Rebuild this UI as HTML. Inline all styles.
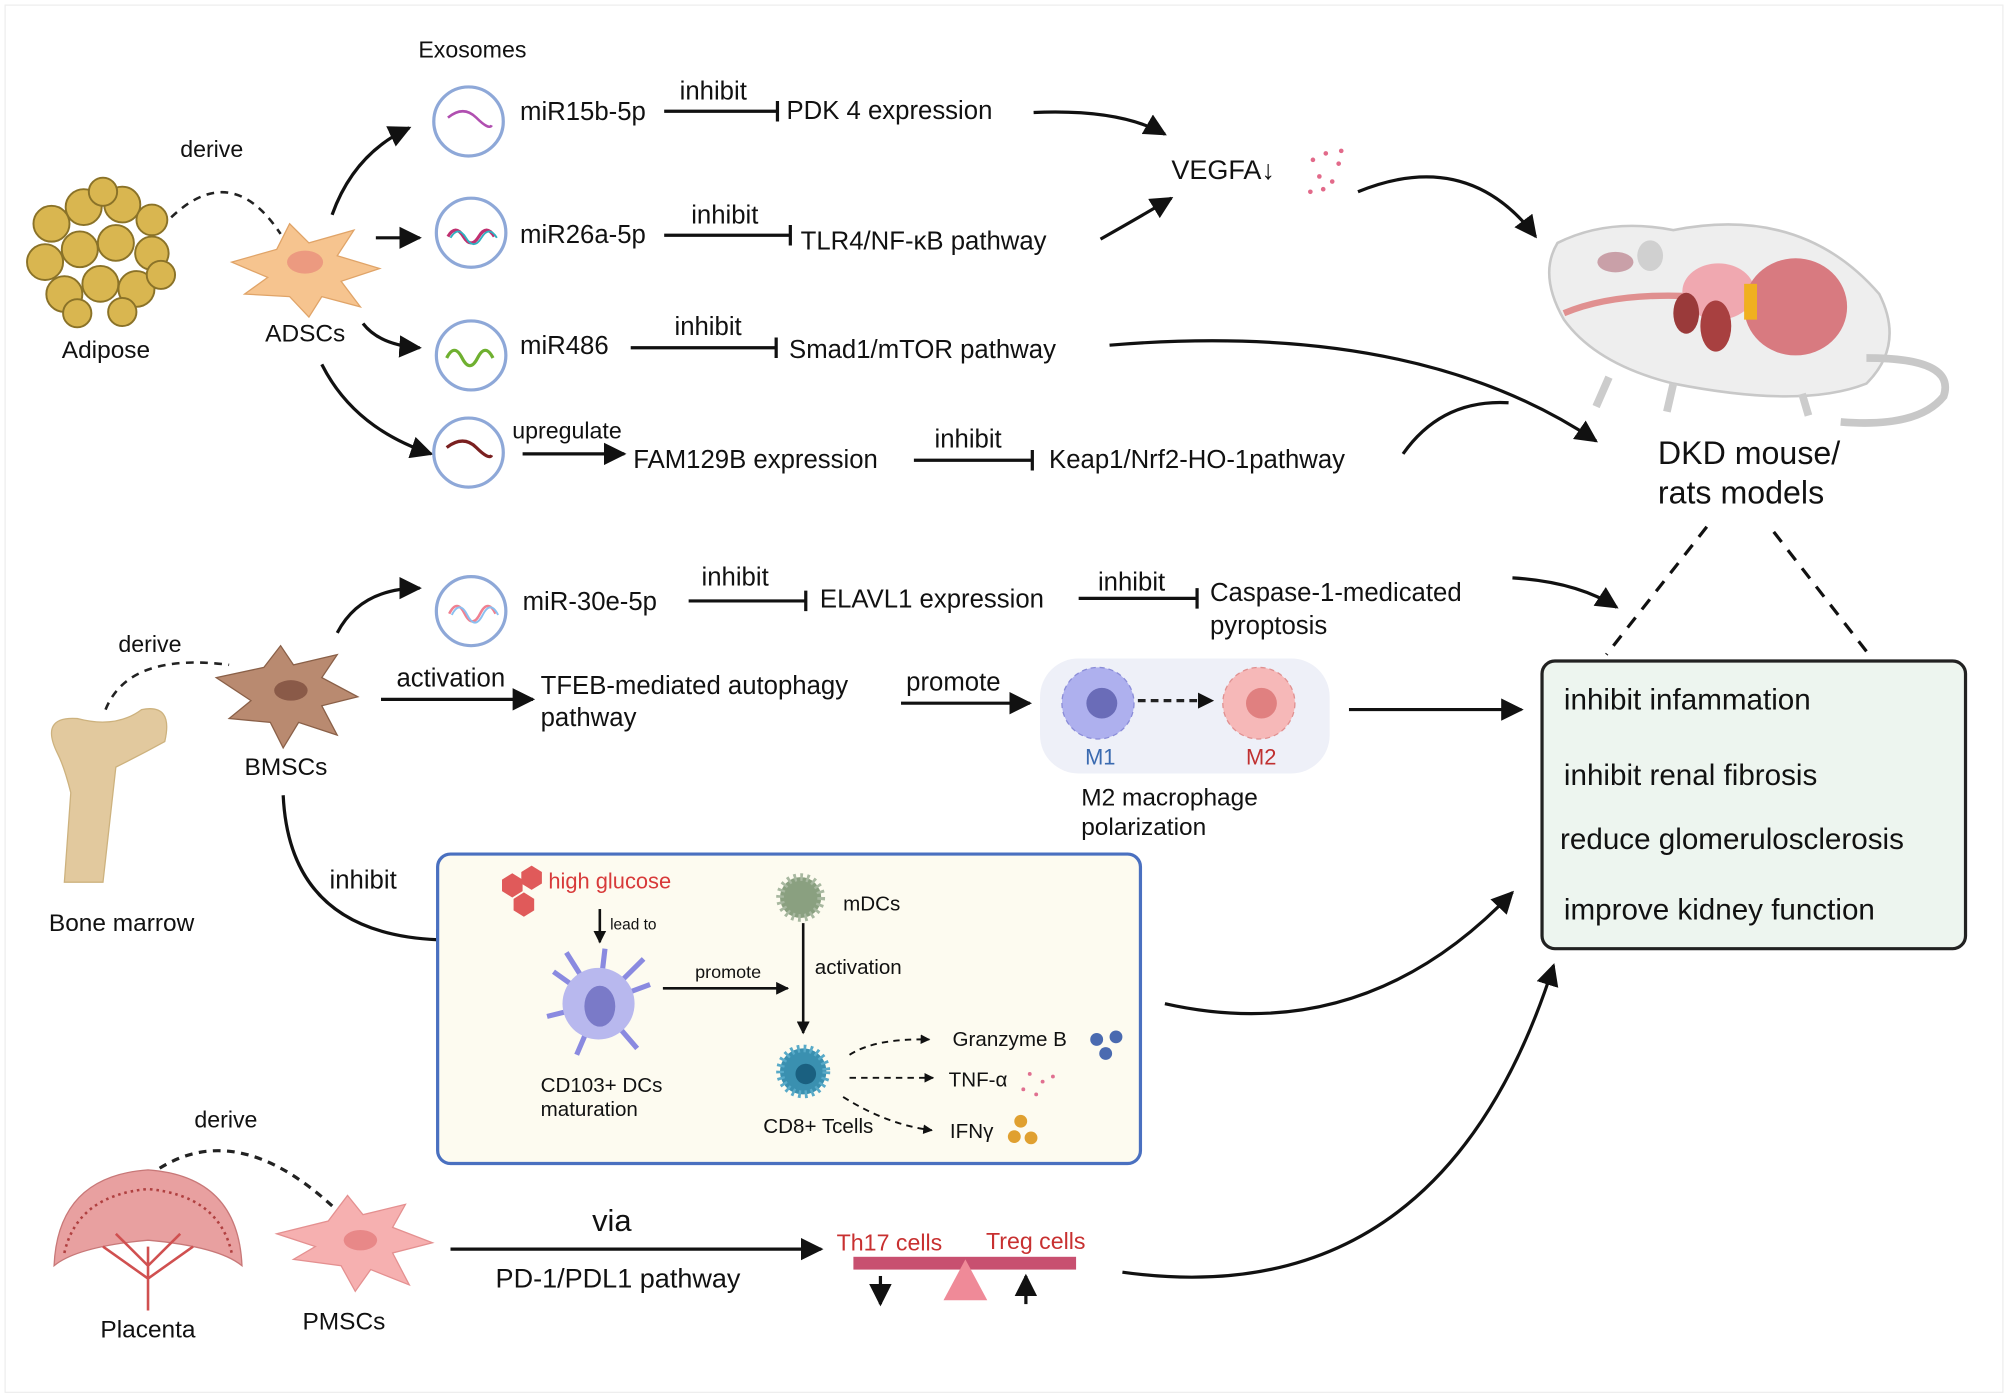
<!DOCTYPE html>
<html><head><meta charset="utf-8"><style>
html,body{margin:0;padding:0;background:#fff}
svg{display:block}
text{font-family:"Liberation Sans",sans-serif;fill:#111}
</style></head><body>
<svg width="2008" height="1400" viewBox="0 0 1560 1095" preserveAspectRatio="none" xmlns="http://www.w3.org/2000/svg">
<defs>
<marker id="a" viewBox="0 0 10 10" refX="9" refY="5" markerWidth="7" markerHeight="7" orient="auto"><path d="M0,0L10,5L0,10z" fill="#111"/></marker>
<marker id="s" viewBox="0 0 10 10" refX="9" refY="5" markerWidth="5" markerHeight="5" orient="auto"><path d="M0,0L10,5L0,10z" fill="#111"/></marker>
</defs>
<rect x="4" y="4" width="1552" height="1085" fill="#fff" stroke="#eee"/>
<g font-size="20">
<text x="325" y="45" font-size="18">Exosomes</text>
<text x="140" y="123" font-size="18">derive</text>
<text x="48" y="280" font-size="19">Adipose</text>
<text x="206" y="267" font-size="19">ADSCs</text>
<g fill="#d9b650" stroke="#8a7228" stroke-width="1.5">
<circle cx="40" cy="175" r="14"/><circle cx="65" cy="162" r="14"/><circle cx="95" cy="160" r="14"/><circle cx="118" cy="172" r="12"/><circle cx="35" cy="205" r="14"/><circle cx="62" cy="195" r="14"/><circle cx="90" cy="190" r="14"/><circle cx="118" cy="198" r="13"/><circle cx="50" cy="230" r="14"/><circle cx="78" cy="222" r="14"/><circle cx="106" cy="226" r="14"/><circle cx="125" cy="215" r="11"/><circle cx="80" cy="150" r="11"/><circle cx="60" cy="245" r="11"/><circle cx="95" cy="244" r="11"/>
</g>
<path d="M133,170 Q180,125 218,183" fill="none" stroke="#222" stroke-width="2" stroke-dasharray="6,5"/>
<path d="M180,205 L215,195 L225,175 L240,190 L275,180 L262,200 L295,210 L265,220 L280,240 L250,232 L240,248 L225,232 L190,230 L208,217z" fill="#f6c48f" stroke="#e0a468"/>
<ellipse cx="237" cy="205" rx="14" ry="9" fill="#ec9a80"/>
<g fill="none" stroke="#111" stroke-width="2.5" marker-end="url(#a)">
<path d="M258,168 Q275,120 318,100"/>
<path d="M292,186 L326,186"/>
<path d="M282,253 Q295,270 326,272"/>
<path d="M250,285 Q275,335 335,355"/>
</g>
<g fill="#fff" stroke="#8ea8d8" stroke-width="2.5">
<circle cx="364" cy="95" r="27"/><circle cx="366" cy="182" r="27"/><circle cx="366" cy="278" r="27"/><circle cx="364" cy="354" r="27"/><circle cx="366" cy="478" r="27"/>
</g>
<path d="M348,92 Q360,82 370,92 T382,98" stroke="#b04fb0" fill="none" stroke-width="2"/>
<path d="M348,185 q6,-10 12,0 t12,0 t12,0" stroke="#c03070" fill="none" stroke-width="2.5"/>
<path d="M350,186 q6,-10 12,0 t12,0 t12,0" stroke="#30b0c0" fill="none" stroke-width="1.5"/>
<path d="M347,280 q6,-12 12,0 t12,0 t12,0" stroke="#6fb030" fill="none" stroke-width="2.5"/>
<path d="M347,350 Q360,340 370,350 T382,356" stroke="#7a2020" fill="none" stroke-width="2.5"/>
<path d="M349,480 q6,-12 12,0 t12,0 t12,0" stroke="#f08090" fill="none" stroke-width="2"/>
<path d="M351,481 q6,-12 12,0 t12,0 t12,0" stroke="#8ac0f0" fill="none" stroke-width="1.5"/>
<text x="404" y="94">miR15b-5p</text>
<text x="528" y="78">inhibit</text>
<text x="611" y="93">PDK 4 expression</text>
<text x="404" y="190">miR26a-5p</text>
<text x="537" y="175">inhibit</text>
<text x="622" y="195">TLR4/NF-κB pathway</text>
<text x="404" y="277">miR486</text>
<text x="524" y="262">inhibit</text>
<text x="613" y="280">Smad1/mTOR pathway</text>
<text x="398" y="343" font-size="18">upregulate</text>
<text x="492" y="366">FAM129B expression</text>
<text x="726" y="350">inhibit</text>
<text x="815" y="366">Keap1/Nrf2-HO-1pathway</text>
<text x="910" y="140" font-size="21">VEGFA↓</text>
<g fill="#e26a8a"><circle cx="1020" cy="125" r="1.8"/><circle cx="1030" cy="120" r="1.8"/><circle cx="1040" cy="128" r="1.8"/><circle cx="1025" cy="138" r="1.8"/><circle cx="1035" cy="142" r="1.8"/><circle cx="1018" cy="150" r="1.8"/><circle cx="1042" cy="118" r="1.8"/><circle cx="1028" cy="148" r="1.8"/></g>
<g stroke="#111" stroke-width="2.5" fill="none">
<path d="M516,87 L604,87 M604,79 L604,95"/>
<path d="M516,184 L614,184 M614,176 L614,192"/>
<path d="M490,272 L603,272 M603,264 L603,280"/>
<path d="M710,360 L802,360 M802,352 L802,368"/>
<path d="M406,355 L485,355" marker-end="url(#a)"/>
<path d="M803,88 Q870,85 905,105" marker-end="url(#a)"/>
<path d="M855,187 Q885,170 910,155" marker-end="url(#a)"/>
<path d="M1055,150 Q1140,115 1193,185" marker-end="url(#a)"/>
<path d="M862,270 Q1100,250 1240,345" marker-end="url(#a)"/>
<path d="M1090,355 Q1120,312 1172,315"/>
<path d="M1175,452 Q1225,455 1256,475" marker-end="url(#a)"/>
<path d="M535,470 L626,470 M626,462 L626,478"/>
<path d="M838,468 L930,468 M930,460 L930,476"/>
</g>
<!-- mouse -->
<path d="M1210,190 Q1250,170 1300,180 Q1400,160 1460,230 Q1480,270 1450,300 Q1400,320 1300,300 Q1240,285 1215,250 Q1195,215 1210,190z" fill="#eeeeee" stroke="#c8c8c8" stroke-width="2"/>
<path d="M1450,280 Q1520,280 1510,310 Q1490,335 1430,330" fill="none" stroke="#c8c8c8" stroke-width="6"/>
<path d="M1250,295 L1240,318 M1300,300 L1295,322 M1400,308 L1405,325" stroke="#ccc" stroke-width="6"/>
<ellipse cx="1255" cy="205" rx="14" ry="8" fill="#c9a0a8"/>
<ellipse cx="1282" cy="200" rx="10" ry="12" fill="#d0d0d0"/>
<path d="M1215,245 Q1255,228 1320,232" stroke="#e09090" stroke-width="5" fill="none"/>
<ellipse cx="1335" cy="228" rx="28" ry="22" fill="#f0a8b0"/>
<ellipse cx="1310" cy="245" rx="10" ry="16" fill="#9a3a3a"/>
<ellipse cx="1333" cy="255" rx="12" ry="20" fill="#a84040"/>
<ellipse cx="1395" cy="240" rx="40" ry="38" fill="#d87a80"/>
<rect x="1355" y="222" width="10" height="28" fill="#f0b020"/>
<text x="1288" y="363" font-size="25">DKD mouse/</text>
<text x="1288" y="394" font-size="25">rats models</text>
<path d="M1326,412 L1248,512 M1378,416 L1452,512" stroke="#111" stroke-width="2.5" stroke-dasharray="10,8" fill="none"/>
<rect x="1198" y="517" width="329" height="225" rx="10" fill="#edf5ef" stroke="#222" stroke-width="2.5"/>
<text x="1215" y="555" font-size="23">inhibit infammation</text>
<text x="1215" y="614" font-size="23">inhibit renal fibrosis</text>
<text x="1212" y="664" font-size="23">reduce  glomerulosclerosis</text>
<text x="1215" y="719" font-size="23">improve kidney function</text>
<text x="92" y="510" font-size="18">derive</text>
<path d="M82,555 Q100,510 178,520" fill="none" stroke="#222" stroke-width="2" stroke-dasharray="6,5"/>
<path d="M168,530 L205,522 L218,505 L228,520 L262,512 L250,530 L278,545 L250,552 L262,575 L232,565 L220,585 L210,565 L178,562 L195,548z" fill="#b98a70" stroke="#8a6048"/>
<ellipse cx="226" cy="540" rx="13" ry="8" fill="#8a5a48"/>
<text x="190" y="606" font-size="19">BMSCs</text>
<path d="M45,590 Q30,560 60,562 Q90,570 110,555 Q135,550 128,580 Q110,590 90,600 L80,690 L50,690 L55,620 Q50,600 45,590z" fill="#e2c99e" stroke="#cdb27e"/>
<text x="38" y="728" font-size="19">Bone marrow</text>
<g stroke="#111" stroke-width="2.5" fill="none">
<path d="M262,495 Q280,460 326,460" marker-end="url(#a)"/>
<path d="M296,547 L414,547" marker-end="url(#a)"/>
<path d="M700,550 L800,550" marker-end="url(#a)"/>
<path d="M1048,555 L1182,555" marker-end="url(#a)"/>
<path d="M220,622 Q225,730 340,735 M340,727 L340,743"/>
</g>
<text x="406" y="477">miR-30e-5p</text>
<text x="545" y="458">inhibit</text>
<text x="637" y="475">ELAVL1 expression</text>
<text x="853" y="462">inhibit</text>
<text x="940" y="470">Caspase-1-medicated</text>
<text x="940" y="496">pyroptosis</text>
<text x="308" y="537">activation</text>
<text x="420" y="543">TFEB-mediated autophagy</text>
<text x="420" y="568">pathway</text>
<text x="704" y="540">promote</text>
<rect x="808" y="515" width="225" height="90" rx="30" fill="#eef0f8"/>
<circle cx="853" cy="550" r="28" fill="#aeb0ee" stroke="#8a8cd8" stroke-dasharray="4,3"/>
<circle cx="856" cy="550" r="12" fill="#6a6cb8"/>
<circle cx="978" cy="550" r="28" fill="#f6b8b8" stroke="#e09090" stroke-dasharray="4,3"/>
<circle cx="980" cy="550" r="12" fill="#e08080"/>
<path d="M884,548 L942,548" stroke="#222" stroke-width="2.5" stroke-dasharray="6,4" marker-end="url(#s)"/>
<text x="843" y="598" font-size="17" style="fill:#3a6ab0">M1</text>
<text x="968" y="598" font-size="17" style="fill:#c03030">M2</text>
<text x="840" y="630" font-size="19">M2 macrophage</text>
<text x="840" y="653" font-size="19">polarization</text>
<text x="256" y="695">inhibit</text>
<rect x="340" y="668" width="546" height="242" rx="10" fill="#fdfbf0" stroke="#4a70c0" stroke-width="2.5"/>
<g fill="#e05a5a"><polygon points="390,688 398,683 406,688 406,697 398,702 390,697"/><polygon points="405,682 413,677 421,682 421,691 413,696 405,691"/><polygon points="399,703 407,698 415,703 415,712 407,717 399,712"/></g>
<text x="426" y="695" font-size="17" style="fill:#d83a3a">high glucose</text>
<path d="M466,711 L466,737" stroke="#111" stroke-width="2" marker-end="url(#s)"/>
<text x="474" y="727" font-size="12">lead to</text>
<g stroke="#8a8ae0" stroke-width="4"><path d="M465,785 L430,760 M465,785 L425,795 M465,785 L448,825 M465,785 L495,820 M465,785 L505,770 M465,785 L470,742 M465,785 L440,745 M465,785 L500,750"/></g>
<circle cx="465" cy="785" r="28" fill="#b8b8ee"/><ellipse cx="466" cy="787" rx="12" ry="16" fill="#7a7ac8"/>
<text x="420" y="854" font-size="16">CD103+ DCs</text>
<text x="420" y="873" font-size="16">maturation</text>
<path d="M515,773 L612,773" stroke="#111" stroke-width="2" marker-end="url(#s)"/>
<text x="540" y="765" font-size="14">promote</text>
<circle cx="622" cy="702" r="16" fill="#8aa080" stroke="#a8b8a0" stroke-width="6" stroke-dasharray="2,3"/>
<text x="655" y="712" font-size="16">mDCs</text>
<path d="M624,722 L624,808" stroke="#111" stroke-width="2" marker-end="url(#s)"/>
<text x="633" y="762" font-size="16">activation</text>
<circle cx="624" cy="838" r="18" fill="#3a90b0" stroke="#58aac8" stroke-width="6" stroke-dasharray="2,3"/>
<circle cx="626" cy="840" r="8" fill="#1a6080"/>
<text x="593" y="886" font-size="16">CD8+ Tcells</text>
<g stroke="#111" stroke-width="1.5" stroke-dasharray="5,4" fill="none" marker-end="url(#s)">
<path d="M660,825 Q680,812 722,813"/><path d="M660,843 L725,843"/><path d="M655,858 Q690,880 724,884"/>
</g>
<text x="740" y="818" font-size="16">Granzyme B</text>
<g fill="#4a6ab0"><circle cx="852" cy="813" r="5"/><circle cx="867" cy="811" r="5"/><circle cx="859" cy="824" r="5"/></g>
<text x="737" y="850" font-size="16">TNF-α</text>
<g fill="#e07090"><circle cx="800" cy="840" r="1.5"/><circle cx="810" cy="846" r="1.5"/><circle cx="795" cy="852" r="1.5"/><circle cx="805" cy="856" r="1.5"/><circle cx="818" cy="842" r="1.5"/></g>
<text x="738" y="890" font-size="16">IFNγ</text>
<g fill="#e0a030"><circle cx="793" cy="877" r="5"/><circle cx="788" cy="889" r="5"/><circle cx="801" cy="890" r="5"/></g>
<path d="M905,785 Q1060,820 1175,698" fill="none" stroke="#111" stroke-width="2.5" marker-end="url(#a)"/>
<text x="151" y="882" font-size="18">derive</text>
<path d="M115,920 Q180,870 260,945" fill="none" stroke="#222" stroke-width="2.5" stroke-dasharray="6,5"/>
<path d="M42,990 Q45,920 115,915 Q185,920 188,990 Q170,975 115,970 Q60,975 42,990z" fill="#e8a0a0" stroke="#c87878"/>
<path d="M50,980 Q60,935 115,930 Q170,935 180,980" fill="none" stroke="#b04040" stroke-dasharray="2,3" stroke-width="2"/>
<path d="M115,1025 L115,975 M115,990 L90,965 M115,990 L140,965 M115,1000 L80,975 M115,1000 L150,975" stroke="#d05050" stroke-width="2" fill="none"/>
<text x="78" y="1046" font-size="19">Placenta</text>
<path d="M215,965 L255,955 L270,935 L282,950 L315,942 L305,960 L336,972 L305,980 L318,1005 L288,993 L276,1010 L265,990 L228,985 L245,975z" fill="#f6b0b0" stroke="#e49090"/>
<ellipse cx="280" cy="970" rx="13" ry="8" fill="#e88888"/>
<text x="235" y="1040" font-size="19">PMSCs</text>
<path d="M350,977 L638,977" stroke="#111" stroke-width="2.5" marker-end="url(#a)"/>
<text x="460" y="963" font-size="24">via</text>
<text x="385" y="1007" font-size="21">PD-1/PDL1 pathway</text>
<text x="650" y="978" font-size="18" style="fill:#c83030">Th17 cells</text>
<text x="766" y="977" font-size="18" style="fill:#c83030">Treg cells</text>
<rect x="663" y="983" width="173" height="10" fill="#c85070"/>
<polygon points="750,985 733,1017 767,1017" fill="#ef8a98"/>
<path d="M684,998 L684,1020" stroke="#111" stroke-width="2.5" marker-end="url(#a)" fill="none"/>
<path d="M797,1020 L797,998" stroke="#111" stroke-width="2.5" marker-end="url(#a)" fill="none"/>
<path d="M872,995 Q1120,1030 1207,755" fill="none" stroke="#111" stroke-width="2.5" marker-end="url(#a)"/>
</g>
</svg>
</body></html>
